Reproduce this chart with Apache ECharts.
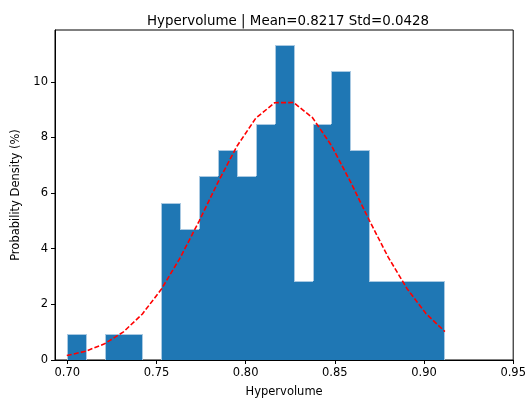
<!DOCTYPE html>
<html><head><meta charset="utf-8">
<script src="https://cdn.jsdelivr.net/npm/echarts@6/dist/echarts.min.js"></script>
<style>html,body{margin:0;padding:0;background:#fff;overflow:hidden}#c{width:529px;height:403px}</style>
</head><body><div id="c"></div>
<script>
var binEdges = [0.6997,0.7103,0.7209,0.7315,0.7421,0.7527,0.7633,0.7739,0.7845,0.7951,0.8057,0.8163,0.8269,0.8375,0.8481,0.8587,0.8693,0.8799,0.8905,0.9011,0.9117];
var densities = [0.94,0,0.94,0.94,0,5.66,4.72,6.60,7.55,6.60,8.49,11.32,2.83,8.49,10.38,7.55,2.83,2.83,2.83,2.83];
var curveValues = [0.160,0.315,0.583,1.012,1.654,2.543,3.675,4.994,6.390,7.684,8.692,9.247,9.253,8.707,7.707,6.415,5.022,3.698,2.562,1.668,1.022];
var xTicks = [0.70,0.75,0.80,0.85,0.90,0.95];
var yTicks = [0,2,4,6,8,10];
var titleText = 'Hypervolume | Mean=0.8217 Std=0.0428';

var barData = densities.map(function(d,i){return [binEdges[i],binEdges[i+1],d];});
var curveData = curveValues.map(function(v,i){return [binEdges[i],v];});
var F = 'DejaVu Sans';
var EDGE = '#a9c9e2';
var R = Math.round;
var chart = echarts.init(document.getElementById('c'),null,{renderer:'canvas'});
chart.setOption({
  animation:false,
  title:{text:titleText,left:283,top:10,textAlign:'center',textStyle:{fontFamily:F,fontSize:13.4,fontWeight:'normal',color:'#000'}},
  grid:{left:55,right:14,top:30,bottom:39,show:true,borderColor:'#000',borderWidth:1,backgroundColor:'transparent'},
  xAxis:{type:'value',min:0.6931,max:0.95,
    name:'Hypervolume',nameLocation:'middle',nameGap:26,nameTextStyle:{fontFamily:F,fontSize:11.5,color:'#000'},
    axisLine:{show:true,onZero:false,lineStyle:{color:'#000',width:1}},
    axisTick:{show:true,length:4,customValues:xTicks,lineStyle:{color:'#000'}},
    axisLabel:{customValues:xTicks,fontFamily:F,fontSize:11.5,color:'#000',margin:7,formatter:function(v){return v.toFixed(2);}},
    splitLine:{show:false}},
  yAxis:{type:'value',min:0,max:11.86,
    name:'Probability Density (%)',nameLocation:'middle',nameGap:31,nameTextStyle:{fontFamily:F,fontSize:11.5,color:'#000'},
    axisLine:{show:true,lineStyle:{color:'#000',width:1}},
    axisTick:{show:true,length:4,customValues:yTicks,lineStyle:{color:'#000'}},
    axisLabel:{customValues:yTicks,fontFamily:F,fontSize:11.5,color:'#000',margin:7},
    splitLine:{show:false}},
  series:[
    {type:'custom',data:barData,encode:{x:[0,1],y:2},clip:true,
     renderItem:function(params,api){
       var i=params.dataIndex;
       var x0=api.value(0),x1=api.value(1),h=api.value(2);
       var p0=api.coord([x0,h]),p1=api.coord([x1,0]);
       var L=R(p0[0]),Rt=R(p1[0]),T=R(p0[1]),B=R(p1[1]);
       var children=[];
       if(h>0){
         children.push({type:'rect',shape:{x:L,y:T,width:Rt-L,height:B-T},style:{fill:'#1f77b4'},z2:1});
         children.push({type:'line',shape:{x1:L,y1:T+0.5,x2:Rt,y2:T+0.5},style:{stroke:EDGE,lineWidth:1},z2:2});
       }
       var hl=i>0?densities[i-1]:0;
       if(hl!==h){
         var a=R(api.coord([x0,Math.min(hl,h)])[1]),b=R(api.coord([x0,Math.max(hl,h)])[1]);
         children.push({type:'line',shape:{x1:L+0.5,y1:a,x2:L+0.5,y2:b},style:{stroke:EDGE,lineWidth:1},z2:2});
       }
       if(i===densities.length-1&&h>0){
         children.push({type:'line',shape:{x1:Rt-0.5,y1:B,x2:Rt-0.5,y2:T},style:{stroke:EDGE,lineWidth:1},z2:2});
       }
       return {type:'group',children:children};
     },z:2},
    {type:'line',data:curveData,showSymbol:false,symbol:'none',
     lineStyle:{color:'#ff0000',width:1.6,type:[5,2.2]},z:3}
  ]
});
</script></body></html>
